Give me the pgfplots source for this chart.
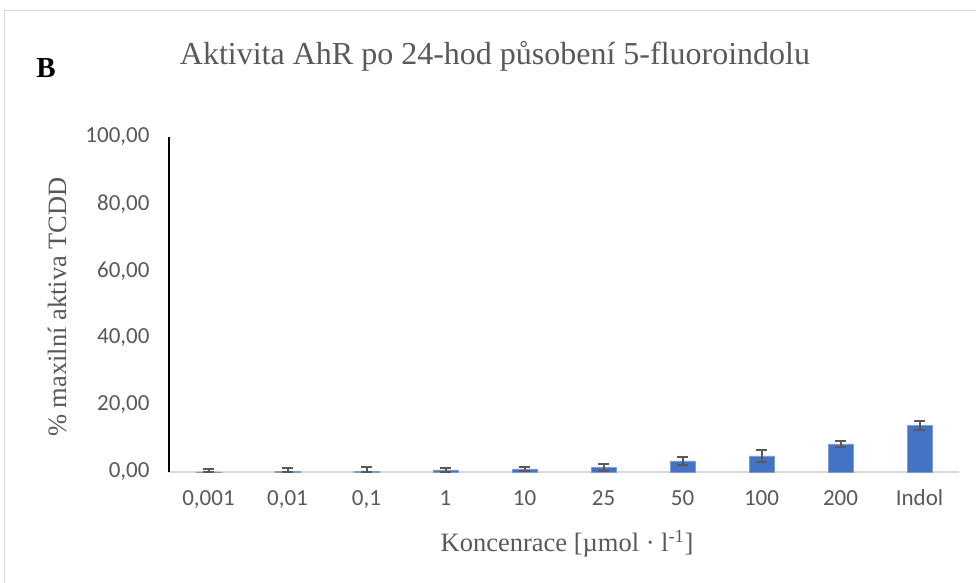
\documentclass[border=0pt]{standalone}
\usepackage{pgfplots}
\usepackage{pgfplotstable}
\pgfplotsset{compat=1.18}
\usepackage{fontspec}
\setmainfont{Liberation Serif}
\newfontfamily\carlito{Carlito}

\definecolor{barblue}{HTML}{4472C4}
\definecolor{txtgray}{HTML}{595959}
\definecolor{axgray}{HTML}{D9D9D9}
\definecolor{framegray}{HTML}{D9D9D9}

% x = category index, y = % of max TCDD activity, ep/em = error up/down
% (lower error cut at the axis, as in the original)
\pgfplotstableread{
x y ep em
0 0.05 0.75 0.05
1 0.2 0.9 0.2
2 0.1 1.3 0.1
3 0.6 0.5 0.5
4 0.9 0.7 0.7
5 1.3 1.1 1.1
6 3.3 1.3 1.3
7 4.8 1.9 1.9
8 8.4 1.0 1.0
9 13.9 1.3 1.3
}\datatable

\begin{document}
\begin{tikzpicture}
\path[use as bounding box] (0,0) rectangle (976bp,583bp);
\draw[framegray, line width=1bp] (4bp,0) -- (4bp,572bp) -- (976bp,572bp);

\node[font=\fontsize{32bp}{36bp}\selectfont, text=txtgray] at (495bp,527bp)
    {Aktivita AhR po 24-hod působení 5-fluoroindolu};
\node[font=\fontsize{29bp}{33bp}\selectfont\bfseries] at (46bp,515bp) {B};

\begin{axis}[
    at={(169bp,111bp)}, anchor=south west,
    scale only axis,
    width=790bp, height=335bp,
    xmin=-0.5, xmax=9.5,
    ymin=0, ymax=100,
    ytick={0,20,...,100},
    xtick=data,
    xticklabels={{0,001},{0,01},{0,1},1,10,25,50,100,200,Indol},
    axis line style={draw=none},
    major tick length=0pt,
    tick label style={font=\carlito\fontsize{23bp}{27bp}\selectfont, text=txtgray},
    yticklabel style={xshift=-16bp},
    xticklabel style={yshift=-14bp, text height=16bp, text depth=4bp},
    /pgf/number format/.cd, fixed, fixed zerofill, precision=2, use comma,
        assume math mode=true,
    /pgfplots/.cd,
    ybar, bar width=25bp,
    clip=false,
]
\draw[axgray, line width=1.5bp] (rel axis cs:0,0) -- (rel axis cs:1,0);
\addplot[fill=barblue, draw=barblue!70!white, line width=0.5bp,
    error bars/.cd, y dir=both, y explicit,
    error bar style={txtgray, line width=2bp},
    error mark options={rotate=90, mark size=5.5bp, txtgray, line width=2bp}]
    table[x=x, y=y, y error plus=ep, y error minus=em] {\datatable};
\draw[black, line width=2bp] (rel axis cs:0,0) -- (rel axis cs:0,1);
\end{axis}

\node[rotate=90, font=\fontsize{26.5bp}{30bp}\selectfont, text=txtgray] at (57bp,276bp)
    {\% maxilní aktiva TCDD};
\node[font=\fontsize{26.5bp}{30bp}\selectfont, text=txtgray] at (567bp,39bp)
    {Koncenrace [µmol · l\textsuperscript{-1}]};
\end{tikzpicture}
\end{document}
